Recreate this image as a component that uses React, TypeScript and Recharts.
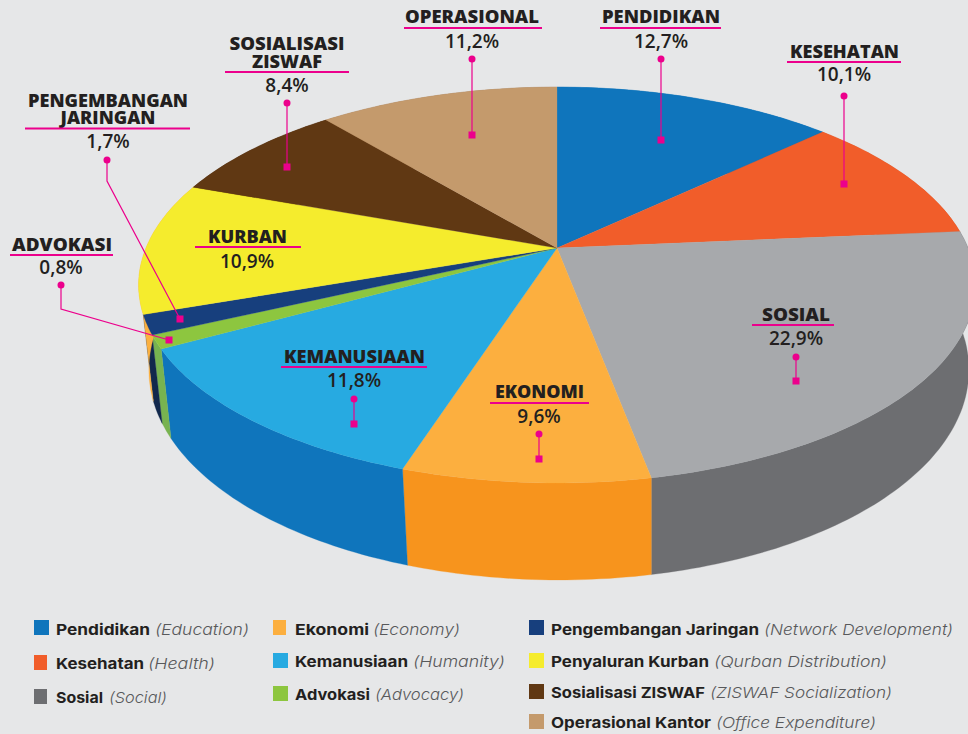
import { PieChart, Pie, Legend } from 'recharts';

// Printed on the chart
const calloutTitles = [
  ['PENDIDIKAN'], ['KESEHATAN'], ['SOSIAL'], ['EKONOMI'], ['KEMANUSIAAN'], ['ADVOKASI'],
  ['PENGEMBANGAN', 'JARINGAN'], ['KURBAN'], ['SOSIALISASI', 'ZISWAF'], ['OPERASIONAL'],
];
const printedShares = ['12,7%', '10,1%', '22,9%', '9,6%', '11,8%', '0,8%', '1,7%', '10,9%', '8,4%', '11,2%'];

// Slice sizes as measured on the picture (they differ a little from the printed ones)
const drawnShares = [13.0, 10.6, 23.4, 8.0, 12.0, 1.1, 1.6, 10.8, 8.4, 11.1];

const legendNames = [
  'Pendidikan', 'Kesehatan', 'Sosial', 'Ekonomi', 'Kemanusiaan', 'Advokasi',
  'Pengembangan Jaringan', 'Penyaluran Kurban', 'Sosialisasi ZISWAF', 'Operasional Kantor',
];
const legendEnglish = [
  '(Education)', '(Health)', '(Social)', '(Economy)', '(Humanity)', '(Advocacy)',
  '(Network Development)', '(Qurban Distribution)', '(ZISWAF Socialization)', '(Office Expenditure)',
];

const topColors = ['#0f75bc', '#f15d2a', '#a7a9ac', '#fcaf3f', '#27aae1', '#8dc63f', '#173f7d', '#f5ec2d', '#603813', '#c49a6c'];
const wallColors = ['#0f75bc', '#d94f20', '#6d6e71', '#f7941d', '#0f75bc', '#78b350', '#12284c', '#fbb040', '#4a2b0e', '#a07c55'];
const swatchColors = ['#0f75bc', '#f15d2a', '#6d6e71', '#fcaf3f', '#27aae1', '#8dc63f', '#173f7d', '#f5ec2d', '#603813', '#c49a6c'];

const PINK = '#ec008c';
const INK = '#231f20';

const sliceRows = drawnShares.map((share, i) => ({
  name: legendNames[i],
  share,
  fill: topColors[i],
  wall: wallColors[i],
}));
const wallRows = sliceRows.map((row) => ({ ...row, fill: row.wall }));

// Title x and widths per line, title baselines, underline, value baseline, leader path
const calloutLayout = [
  { cx: 661, mid: 661, w: [118], base: [23], ul: [600, 721, 28], val: 48, leader: [[661, 59], [661, 140]] },
  { cx: 844, mid: 844.5, w: [109], base: [58], ul: [787, 901, 62], val: 81, leader: [[844, 96], [844, 184]] },
  { cx: 796, mid: 796, w: [68], base: [321], ul: [752, 834, 325], val: 345, leader: [[796, 357], [796, 381]] },
  { cx: 539, mid: 539.5, w: [89], base: [398], ul: [490, 589, 403], val: 423, leader: [[539, 434], [539, 459]] },
  { cx: 354, mid: 354.5, w: [141], base: [363], ul: [281, 427, 367], val: 387, leader: [[354, 399], [354, 424]] },
  { cx: 61, mid: 62, w: [100], base: [251], ul: [10, 113, 255], val: 274, leader: [[61, 285], [61, 309], [169, 340]] },
  { cx: 108, mid: 108, w: [160, 95], base: [107, 124], ul: [25, 190, 128.5], val: 148, leader: [[107, 160], [107, 181], [180, 319]] },
  { cx: 247, mid: 247.5, w: [79], base: [243], ul: [195, 301, 247], val: 268, leader: [] },
  { cx: 287, mid: 287, w: [115, 70], base: [50, 68], ul: [225, 349, 72], val: 92, leader: [[287, 103], [287, 167]] },
  { cx: 472, mid: 472, w: [134], base: [23], ul: [404, 542, 28], val: 48, leader: [[472, 59], [472, 135]] },
];

// Swatch x, y, w and the text spans [x, width] for the bold and the italic part
const legendLayout = [
  { x: 34, y: 620, w: 15, base: 635, bold: [56, 94], it: [155, 94] },
  { x: 34, y: 655, w: 13, base: 669, bold: [56, 88], it: [148, 67] },
  { x: 34, y: 689, w: 13, base: 703, bold: [56, 47], it: [109, 58] },
  { x: 273, y: 620, w: 13, base: 635, bold: [295, 74], it: [373, 87] },
  { x: 273, y: 653, w: 15, base: 667, bold: [295, 113], it: [413, 92] },
  { x: 273, y: 686, w: 15, base: 700, bold: [295, 75], it: [375, 89] },
  { x: 529, y: 620, w: 15, base: 635, bold: [551, 208], it: [764, 189] },
  { x: 529, y: 653, w: 15, base: 667, bold: [551, 158], it: [714, 173] },
  { x: 529, y: 684, w: 15, base: 698, bold: [551, 154], it: [710, 182] },
  { x: 529, y: 714, w: 15, base: 728, bold: [551, 160], it: [716, 160] },
];

// Perspective of the disc: apex on screen, half width and height, foreshortening
const APEX_X = 557;
const APEX_Y = 248;
const HALF_W = 411;
const HALF_H = 191;
const K = 0.187;

const topPoint = (deg: number): [number, number] => {
  const a = (deg * Math.PI) / 180;
  const u = Math.cos(a);
  const v = Math.sin(a);
  const w = 1 + K * v;
  return [APEX_X + (HALF_W * u) / w, APEX_Y - (HALF_H * v) / w];
};

// The walls lean in towards a vanishing point below the disc
const bottomPoint = (deg: number): [number, number] => {
  const [x, y] = topPoint(deg);
  const v = Math.sin((deg * Math.PI) / 180);
  return [x + (650 - x) * 0.02, y + 82 - 15 * v];
};

const arcPoints = (from: number, to: number, fn: (d: number) => [number, number]) => {
  const n = Math.max(2, Math.ceil(Math.abs(to - from)));
  const pts: [number, number][] = [];
  for (let i = 0; i <= n; i++) pts.push(fn(from + ((to - from) * i) / n));
  return pts;
};

const toPath = (pts: [number, number][]) =>
  'M' + pts.map((p) => `${p[0].toFixed(1)},${p[1].toFixed(1)}`).join('L') + 'Z';

const TopSlice = (props: any) => {
  const pts = [[APEX_X, APEX_Y] as [number, number], ...arcPoints(props.startAngle, props.endAngle, topPoint)];
  return <path d={toPath(pts)} fill={props.fill} stroke={props.fill} strokeWidth={0.3} />;
};

const WallSlice = (props: any) => {
  const top = arcPoints(props.startAngle, props.endAngle, topPoint);
  const bottom = arcPoints(props.startAngle, props.endAngle, bottomPoint).reverse();
  return <path d={toPath([...top, ...bottom])} fill={props.fill} stroke={props.fill} strokeWidth={0.3} />;
};

const Callout = (props: any) => {
  const i = props.index;
  const box = calloutLayout[i];
  const lines = calloutTitles[i];
  const leader = box.leader;
  const end = leader[leader.length - 1];
  return (
    <g style={{ fontFamily: '"Open Sans", sans-serif' }}>
      {lines.map((line, k) => (
        <text
          key={line}
          x={box.mid - box.w[k] / 2}
          y={box.base[k]}
          fontSize={lines.length > 1 ? 17 : 18}
          fontWeight={800}
          fill={INK}
          textLength={box.w[k]}
          lengthAdjust="spacingAndGlyphs"
        >
          {line}
        </text>
      ))}
      <line x1={box.ul[0]} x2={box.ul[1]} y1={box.ul[2]} y2={box.ul[2]} stroke={PINK} strokeWidth={2} />
      <text x={box.cx} y={box.val} fontSize={19} fontWeight={600} fill={INK} textAnchor="middle">
        {printedShares[i]}
      </text>
      {leader.length > 0 && (
        <>
          <polyline
            points={leader.map((p) => p.join(',')).join(' ')}
            fill="none"
            stroke={PINK}
            strokeWidth={1.2}
          />
          <circle cx={leader[0][0]} cy={leader[0][1]} r={3.5} fill={PINK} />
          <rect x={end[0] - 3.5} y={end[1] - 3.5} width={7} height={7} fill={PINK} />
        </>
      )}
    </g>
  );
};

const renderLegend = (props: any) => (
  <svg width={968} height={734} style={{ position: 'absolute', left: 0, top: 0, fontFamily: 'Inter, sans-serif' }}>
    {(props.payload || []).slice(0, legendLayout.length).map((item: any, i: number) => {
      const row = legendLayout[i];
      return (
        <g key={item.value}>
          <rect x={row.x} y={row.y} width={row.w} height={15} fill={swatchColors[i]} />
          <text
            x={row.bold[0]}
            y={row.base}
            fontSize={15}
            fontWeight={700}
            fill={INK}
            textLength={row.bold[1]}
            lengthAdjust="spacingAndGlyphs"
          >
            {item.value}
          </text>
          <text
            x={row.it[0]}
            y={row.base}
            fontSize={15}
            fontWeight={300}
            fontStyle="italic"
            fill="#58595b"
            textLength={row.it[1]}
            lengthAdjust="spacingAndGlyphs"
          >
            {legendEnglish[i]}
          </text>
        </g>
      );
    })}
  </svg>
);

export default function App() {
  return (
    <div style={{ position: 'fixed', left: 0, top: 0, width: 968, height: 734, background: '#e6e7e8', overflow: 'hidden' }}>
      <PieChart width={968} height={734} margin={{ top: 0, right: 0, bottom: 0, left: 0 }}>
        <Pie
          data={wallRows}
          dataKey="share"
          nameKey="name"
          cx={APEX_X}
          cy={APEX_Y}
          outerRadius={HALF_W}
          startAngle={90}
          endAngle={-270}
          stroke="none"
          legendType="none"
          shape={WallSlice}
          isAnimationActive={false}
        />
        <Pie
          data={sliceRows}
          dataKey="share"
          nameKey="name"
          cx={APEX_X}
          cy={APEX_Y}
          outerRadius={HALF_W}
          startAngle={90}
          endAngle={-270}
          stroke="none"
          shape={TopSlice}
          label={Callout}
          labelLine={false}
          isAnimationActive={false}
        />
        <Legend
          content={renderLegend}
          itemSorter={null}
          wrapperStyle={{ position: 'absolute', left: 0, top: 0, width: 968, height: 734, pointerEvents: 'none' }}
        />
      </PieChart>
    </div>
  );
}
